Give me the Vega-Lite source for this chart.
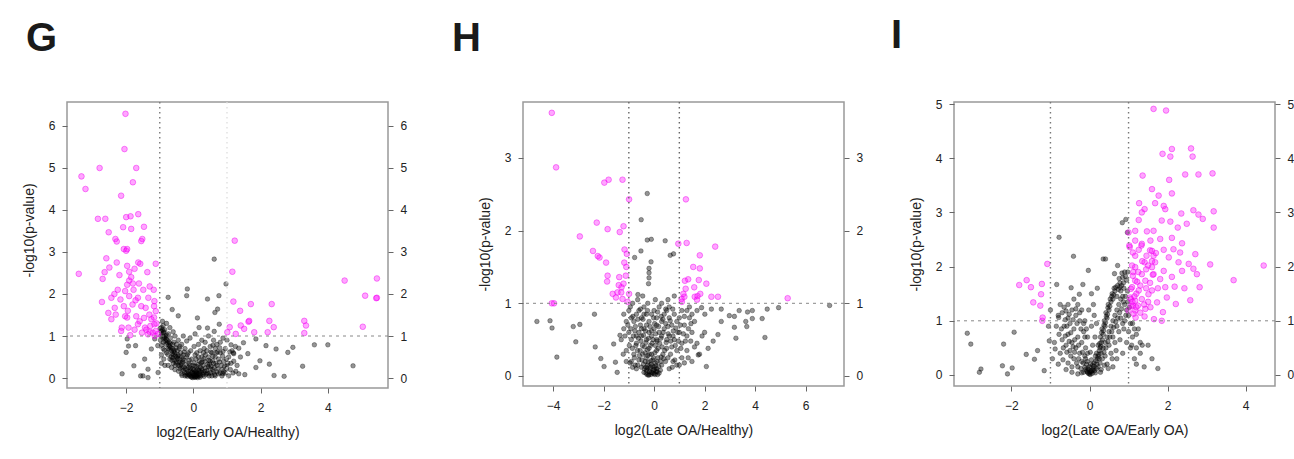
{
"$schema": "https://vega.github.io/schema/vega-lite/v6.json",
"background": "white",
"padding": {"left": 21, "top": 15, "right": 5, "bottom": 5},
"config": {
 "view": {"stroke": "#999", "strokeWidth": 1.5},
 "axis": {"grid": false, "domain": false, "tickColor": "#666", "tickSize": 5, "labelColor": "#222", "labelFont": "Liberation Sans", "labelFontSize": 12, "titleFont": "Liberation Sans", "titleFontSize": 14, "titleFontWeight": "normal", "titleColor": "#222"},
 "title": {"anchor": "start", "frame": "group", "baseline": "alphabetic", "fontSize": 40, "fontWeight": "bold", "font": "Liberation Sans", "color": "#1a1a1a", "offset": 42}
},
"datasets": {
 "h1": [{"y": 1}],
 "vm": [{"x": -1}],
 "vp": [{"x": 1}],
 "vb": [{"x": -1}, {"x": 1}],
 "Gs": [{"x":-2.02,"y":6.29},{"x":-2.05,"y":5.45},{"x":-3.33,"y":4.8},{"x":-3.21,"y":4.5},{"x":-2.79,"y":5.0},{"x":-1.7,"y":5.0},{"x":-1.8,"y":4.66},{"x":-2.15,"y":4.34},{"x":-2.84,"y":3.79},{"x":-2.62,"y":3.79},{"x":-2.0,"y":3.83},{"x":-1.87,"y":3.85},{"x":-1.64,"y":3.9},{"x":-2.09,"y":3.59},{"x":-1.85,"y":3.55},{"x":-1.47,"y":3.6},{"x":-2.52,"y":3.47},{"x":-2.32,"y":3.31},{"x":-2.28,"y":3.25},{"x":-1.52,"y":3.31},{"x":-1.55,"y":3.26},{"x":-2.07,"y":3.07},{"x":-2.0,"y":3.03},{"x":-1.97,"y":3.07},{"x":-2.59,"y":2.85},{"x":-2.28,"y":2.75},{"x":-1.64,"y":2.75},{"x":-1.58,"y":2.72},{"x":-2.5,"y":2.63},{"x":-1.97,"y":2.67},{"x":-1.91,"y":2.53},{"x":-2.64,"y":2.52},{"x":-3.41,"y":2.48},{"x":-2.7,"y":2.36},{"x":-1.37,"y":2.52},{"x":-1.12,"y":2.72},{"x":-1.91,"y":2.32},{"x":-1.8,"y":2.25},{"x":-1.97,"y":2.22},{"x":-2.25,"y":2.1},{"x":-2.03,"y":2.07},{"x":-1.78,"y":2.1},{"x":-1.49,"y":2.1},{"x":-1.3,"y":2.18},{"x":-1.18,"y":2.1},{"x":-2.44,"y":1.91},{"x":-2.17,"y":1.87},{"x":-1.91,"y":1.95},{"x":-1.65,"y":1.91},{"x":-1.34,"y":1.91},{"x":-2.72,"y":1.81},{"x":-2.34,"y":1.67},{"x":-2.07,"y":1.71},{"x":-1.81,"y":1.75},{"x":-1.55,"y":1.71},{"x":-1.42,"y":1.67},{"x":-1.17,"y":1.71},{"x":-2.53,"y":1.55},{"x":-2.31,"y":1.51},{"x":-2.03,"y":1.47},{"x":-1.97,"y":1.44},{"x":-1.7,"y":1.47},{"x":-1.47,"y":1.43},{"x":-1.31,"y":1.51},{"x":-2.44,"y":1.4},{"x":-2.13,"y":1.2},{"x":-1.93,"y":1.2},{"x":-1.65,"y":1.28},{"x":-1.44,"y":1.2},{"x":-1.28,"y":1.24},{"x":-1.16,"y":1.28},{"x":-2.15,"y":1.12},{"x":-1.53,"y":1.08},{"x":-1.35,"y":1.04},{"x":-1.21,"y":1.08},{"x":-1.12,"y":1.12},{"x":-1.17,"y":1.44},{"x":-1.12,"y":1.59},{"x":-1.16,"y":1.83},{"x":-1.85,"y":2.4},{"x":-1.75,"y":2.6},{"x":-1.95,"y":1.6},{"x":-1.6,"y":1.35},{"x":-1.4,"y":1.15},{"x":-1.25,"y":1.4},{"x":-1.1,"y":1.3},{"x":-1.05,"y":1.05},{"x":-1.15,"y":1.0},{"x":-1.3,"y":1.1},{"x":-1.75,"y":1.15},{"x":-1.88,"y":1.02},{"x":-2.35,"y":2.0},{"x":-2.2,"y":2.45},{"x":-1.62,"y":2.25},{"x":-1.72,"y":1.85},{"x":1.23,"y":3.27},{"x":1.16,"y":2.53},{"x":1.19,"y":1.82},{"x":1.39,"y":1.6},{"x":1.71,"y":1.76},{"x":2.33,"y":1.76},{"x":1.64,"y":1.34},{"x":1.66,"y":1.36},{"x":2.26,"y":1.36},{"x":2.39,"y":1.21},{"x":1.08,"y":1.21},{"x":1.41,"y":1.25},{"x":1.51,"y":1.17},{"x":1.81,"y":1.09},{"x":2.21,"y":1.09},{"x":1.01,"y":1.09},{"x":1.26,"y":1.05},{"x":3.3,"y":1.36},{"x":3.35,"y":1.25},{"x":3.3,"y":1.07},{"x":4.5,"y":2.32},{"x":5.46,"y":2.37},{"x":5.11,"y":1.96},{"x":5.46,"y":1.91},{"x":5.44,"y":1.9},{"x":5.04,"y":1.22}],
 "Gn": [{"x":-0.05,"y":0.02},{"x":0.02,"y":0.05},{"x":0.1,"y":0.03},{"x":-0.12,"y":0.08},{"x":0.15,"y":0.1},{"x":-0.2,"y":0.12},{"x":0.05,"y":0.15},{"x":0.22,"y":0.06},{"x":-0.08,"y":0.18},{"x":0.12,"y":0.2},{"x":-0.25,"y":0.05},{"x":0.3,"y":0.12},{"x":-0.15,"y":0.25},{"x":0.0,"y":0.1},{"x":0.08,"y":0.08},{"x":-0.02,"y":0.22},{"x":0.18,"y":0.16},{"x":-0.3,"y":0.18},{"x":0.25,"y":0.22},{"x":-0.1,"y":0.3},{"x":0.05,"y":0.28},{"x":0.32,"y":0.04},{"x":-0.35,"y":0.1},{"x":0.14,"y":0.32},{"x":-0.22,"y":0.32},{"x":0.28,"y":0.3},{"x":0.4,"y":0.18},{"x":-0.4,"y":0.22},{"x":0.02,"y":0.36},{"x":-0.06,"y":0.12},{"x":0.1,"y":0.12},{"x":-0.18,"y":0.04},{"x":0.2,"y":0.02},{"x":0.36,"y":0.24},{"x":-0.28,"y":0.26},{"x":0.06,"y":0.02},{"x":-0.04,"y":0.06},{"x":0.16,"y":0.05},{"x":-0.14,"y":0.15},{"x":0.24,"y":0.14},{"x":0.45,"y":0.1},{"x":0.5,"y":0.22},{"x":-0.45,"y":0.3},{"x":0.42,"y":0.32},{"x":-0.32,"y":0.38},{"x":0.18,"y":0.4},{"x":-0.12,"y":0.42},{"x":0.35,"y":0.4},{"x":0.55,"y":0.05},{"x":0.6,"y":0.15},{"x":-0.5,"y":0.4},{"x":0.08,"y":0.45},{"x":-0.5,"y":0.5},{"x":-0.55,"y":0.6},{"x":-0.6,"y":0.55},{"x":-0.62,"y":0.7},{"x":-0.65,"y":0.65},{"x":-0.7,"y":0.75},{"x":-0.72,"y":0.85},{"x":-0.75,"y":0.7},{"x":-0.78,"y":0.9},{"x":-0.8,"y":0.8},{"x":-0.82,"y":1.0},{"x":-0.85,"y":0.95},{"x":-0.88,"y":1.1},{"x":-0.9,"y":0.85},{"x":-0.92,"y":1.15},{"x":-0.95,"y":1.2},{"x":-0.97,"y":1.0},{"x":-0.98,"y":0.9},{"x":-0.45,"y":0.55},{"x":-0.4,"y":0.45},{"x":-0.38,"y":0.6},{"x":-0.52,"y":0.72},{"x":-0.58,"y":0.85},{"x":-0.68,"y":0.95},{"x":-0.74,"y":1.05},{"x":-0.85,"y":1.15},{"x":-0.9,"y":1.25},{"x":-0.66,"y":0.5},{"x":-0.56,"y":0.42},{"x":-0.48,"y":0.65},{"x":-0.42,"y":0.7},{"x":-0.35,"y":0.5},{"x":-0.3,"y":0.55},{"x":-0.6,"y":0.35},{"x":-0.7,"y":0.45},{"x":-0.8,"y":0.6},{"x":-0.9,"y":0.7},{"x":-0.95,"y":0.55},{"x":-0.88,"y":0.45},{"x":-0.75,"y":0.3},{"x":-0.65,"y":0.25},{"x":-0.55,"y":0.2},{"x":-0.85,"y":0.3},{"x":-0.95,"y":0.35},{"x":-0.2,"y":0.5},{"x":-0.25,"y":0.7},{"x":-0.15,"y":0.6},{"x":-0.35,"y":0.8},{"x":-0.45,"y":0.9},{"x":-0.55,"y":1.0},{"x":-0.6,"y":1.1},{"x":-0.7,"y":1.2},{"x":-0.8,"y":1.3},{"x":-0.92,"y":1.35},{"x":-0.5,"y":0.8},{"x":0.5,"y":0.4},{"x":0.6,"y":0.35},{"x":0.65,"y":0.5},{"x":0.7,"y":0.3},{"x":0.75,"y":0.45},{"x":0.8,"y":0.6},{"x":0.85,"y":0.2},{"x":0.9,"y":0.4},{"x":0.95,"y":0.7},{"x":1.0,"y":0.3},{"x":1.05,"y":0.5},{"x":1.1,"y":0.2},{"x":1.15,"y":0.65},{"x":0.55,"y":0.6},{"x":0.45,"y":0.5},{"x":0.65,"y":0.7},{"x":0.7,"y":0.8},{"x":0.5,"y":0.75},{"x":0.4,"y":0.65},{"x":0.3,"y":0.6},{"x":0.25,"y":0.5},{"x":0.2,"y":0.65},{"x":0.85,"y":0.05},{"x":0.95,"y":0.12},{"x":0.75,"y":0.1},{"x":0.65,"y":0.05},{"x":1.2,"y":0.4},{"x":1.3,"y":0.3},{"x":1.25,"y":0.75},{"x":1.4,"y":0.5},{"x":0.35,"y":0.85},{"x":0.6,"y":0.9},{"x":0.8,"y":0.85},{"x":1.0,"y":0.9},{"x":0.45,"y":1.0},{"x":0.15,"y":0.8},{"x":0.9,"y":0.15},{"x":1.05,"y":0.05},{"x":1.35,"y":0.1},{"x":0.72,"y":0.62},{"x":0.62,"y":2.83},{"x":0.97,"y":2.24},{"x":0.42,"y":1.88},{"x":0.72,"y":1.64},{"x":0.64,"y":1.56},{"x":0.76,"y":1.96},{"x":1.86,"y":0.93},{"x":2.16,"y":0.77},{"x":2.46,"y":0.69},{"x":2.81,"y":0.61},{"x":2.96,"y":0.73},{"x":3.25,"y":0.28},{"x":3.6,"y":0.79},{"x":4.0,"y":0.79},{"x":4.75,"y":0.29},{"x":2.4,"y":0.06},{"x":2.7,"y":0.04},{"x":2.26,"y":0.33},{"x":1.98,"y":0.41},{"x":1.62,"y":0.58},{"x":1.86,"y":0.25},{"x":1.53,"y":0.08},{"x":1.26,"y":0.16},{"x":1.35,"y":0.71},{"x":1.2,"y":0.58},{"x":1.49,"y":0.84},{"x":0.88,"y":0.63},{"x":1.12,"y":0.79},{"x":0.88,"y":0.95},{"x":0.62,"y":1.11},{"x":0.42,"y":1.19},{"x":1.19,"y":0.6},{"x":-2.12,"y":0.1},{"x":-1.97,"y":0.93},{"x":-1.72,"y":0.77},{"x":-1.77,"y":0.29},{"x":-1.57,"y":0.05},{"x":-1.45,"y":0.45},{"x":-1.35,"y":0.21},{"x":-2.0,"y":0.61},{"x":-1.25,"y":0.69},{"x":-1.15,"y":0.93},{"x":-1.06,"y":0.77},{"x":-1.93,"y":0.76},{"x":-1.5,"y":0.05},{"x":-1.35,"y":0.01},{"x":-1.05,"y":0.13},{"x":-0.75,"y":1.92},{"x":-0.18,"y":2.12},{"x":-0.2,"y":1.96},{"x":-0.45,"y":1.48},{"x":-0.63,"y":1.63},{"x":0.12,"y":1.43},{"x":0.17,"y":1.2},{"x":0.77,"y":1.28},{"x":-0.3,"y":1.0},{"x":-0.1,"y":0.95},{"x":0.05,"y":1.05},{"x":-0.02,"y":0.01},{"x":0.03,"y":0.02},{"x":-0.07,"y":0.03},{"x":0.07,"y":0.04},{"x":0.11,"y":0.07},{"x":-0.11,"y":0.05},{"x":0.13,"y":0.01},{"x":-0.16,"y":0.09},{"x":0.19,"y":0.09},{"x":-0.21,"y":0.07},{"x":0.04,"y":0.11},{"x":-0.03,"y":0.14},{"x":0.09,"y":0.16},{"x":-0.09,"y":0.24},{"x":0.16,"y":0.19},{"x":0.21,"y":0.26},{"x":-0.19,"y":0.2},{"x":-0.24,"y":0.22},{"x":0.26,"y":0.18},{"x":0.29,"y":0.08},{"x":0.34,"y":0.16},{"x":-0.27,"y":0.13},{"x":-0.33,"y":0.24},{"x":0.38,"y":0.09},{"x":0.01,"y":0.19},{"x":-0.01,"y":0.3},{"x":0.11,"y":0.27},{"x":-0.13,"y":0.35},{"x":0.23,"y":0.36},{"x":-0.26,"y":0.42},{"x":0.31,"y":0.46},{"x":-0.37,"y":0.32},{"x":0.44,"y":0.27},{"x":-0.42,"y":0.38},{"x":0.48,"y":0.33},{"x":0.53,"y":0.28},{"x":0.57,"y":0.41},{"x":-0.47,"y":0.46},{"x":-0.53,"y":0.52},{"x":-0.58,"y":0.62},{"x":-0.63,"y":0.58},{"x":-0.67,"y":0.72},{"x":-0.73,"y":0.78},{"x":-0.77,"y":0.84},{"x":-0.83,"y":0.88},{"x":-0.87,"y":0.98},{"x":-0.93,"y":1.05},{"x":-0.96,"y":1.12},{"x":-0.99,"y":1.18},{"x":-0.91,"y":0.96},{"x":-0.81,"y":0.92},{"x":-0.71,"y":0.68},{"x":-0.61,"y":0.48},{"x":-0.51,"y":0.36},{"x":-0.41,"y":0.28},{"x":-0.36,"y":0.35},{"x":-0.31,"y":0.44},{"x":-0.46,"y":0.52},{"x":-0.57,"y":0.66},{"x":-0.69,"y":0.82},{"x":-0.79,"y":1.02},{"x":-0.89,"y":1.08},{"x":-0.94,"y":0.78},{"x":-0.86,"y":0.66},{"x":-0.76,"y":0.56},{"x":-0.64,"y":0.42},{"x":-0.54,"y":0.3},{"x":-0.44,"y":0.16},{"x":-0.34,"y":0.06},{"x":0.62,"y":0.25},{"x":0.67,"y":0.35},{"x":0.73,"y":0.22},{"x":0.78,"y":0.38},{"x":0.83,"y":0.3},{"x":0.87,"y":0.52},{"x":0.93,"y":0.28},{"x":0.98,"y":0.45},{"x":1.03,"y":0.35},{"x":1.08,"y":0.62},{"x":0.58,"y":0.52},{"x":0.68,"y":0.6},{"x":0.78,"y":0.72},{"x":0.52,"y":0.62},{"x":0.46,"y":0.42},{"x":0.36,"y":0.55},{"x":0.26,"y":0.38},{"x":0.41,"y":0.12},{"x":0.47,"y":0.05},{"x":0.52,"y":0.12},{"x":0.57,"y":0.2},{"x":0.63,"y":0.08},{"x":0.7,"y":0.15},{"x":0.8,"y":0.12},{"x":0.88,"y":0.1},{"x":0.98,"y":0.22},{"x":1.12,"y":0.35},{"x":1.18,"y":0.12},{"x":0.15,"y":0.5},{"x":0.05,"y":0.55},{"x":-0.05,"y":0.45},{"x":-0.18,"y":0.55},{"x":-0.28,"y":0.62},{"x":0.1,"y":0.6},{"x":0.32,"y":0.7},{"x":0.58,"y":0.78},{"x":-0.4,"y":0.75},{"x":-0.62,"y":0.8},{"x":-0.2,"y":0.88},{"x":0.25,"y":0.9},{"x":0.02,"y":0.75},{"x":-0.08,"y":0.65}],
 "Hs": [{"x":-4.05,"y":3.62},{"x":-3.88,"y":2.87},{"x":-1.97,"y":2.66},{"x":-1.8,"y":2.7},{"x":-1.25,"y":2.7},{"x":-0.99,"y":2.43},{"x":-2.27,"y":2.11},{"x":-1.84,"y":2.02},{"x":-2.94,"y":1.92},{"x":-1.36,"y":1.98},{"x":-1.21,"y":2.06},{"x":-2.42,"y":1.72},{"x":-2.23,"y":1.65},{"x":-2.16,"y":1.63},{"x":-1.9,"y":1.56},{"x":-1.18,"y":1.56},{"x":-1.08,"y":1.68},{"x":-1.17,"y":1.74},{"x":-1.84,"y":1.38},{"x":-1.86,"y":1.3},{"x":-1.38,"y":1.36},{"x":-1.21,"y":1.27},{"x":-1.29,"y":1.22},{"x":-1.12,"y":1.38},{"x":-1.64,"y":1.13},{"x":-1.51,"y":1.08},{"x":-1.25,"y":1.06},{"x":-4.05,"y":1.0},{"x":-3.96,"y":1.0},{"x":-0.99,"y":1.13},{"x":-1.45,"y":1.15},{"x":-1.3,"y":1.15},{"x":-1.4,"y":1.25},{"x":-1.1,"y":1.5},{"x":-1.05,"y":1.02},{"x":1.26,"y":2.43},{"x":0.96,"y":1.82},{"x":1.29,"y":1.83},{"x":2.42,"y":1.78},{"x":1.81,"y":1.66},{"x":1.55,"y":1.5},{"x":1.81,"y":1.48},{"x":1.22,"y":1.31},{"x":1.35,"y":1.33},{"x":1.77,"y":1.32},{"x":2.07,"y":1.27},{"x":1.59,"y":1.22},{"x":1.16,"y":1.13},{"x":1.2,"y":1.09},{"x":1.61,"y":1.09},{"x":1.72,"y":1.1},{"x":1.83,"y":1.13},{"x":2.27,"y":1.09},{"x":2.53,"y":1.09},{"x":5.29,"y":1.07},{"x":1.09,"y":1.06},{"x":1.25,"y":1.2},{"x":1.1,"y":1.02},{"x":1.7,"y":1.05}],
 "Hn": [{"x":-0.2,"y":0.02},{"x":-0.1,"y":0.05},{"x":0.0,"y":0.03},{"x":-0.3,"y":0.08},{"x":0.1,"y":0.1},{"x":-0.15,"y":0.12},{"x":-0.25,"y":0.15},{"x":0.05,"y":0.18},{"x":-0.4,"y":0.05},{"x":0.2,"y":0.04},{"x":-0.05,"y":0.22},{"x":-0.35,"y":0.2},{"x":0.15,"y":0.25},{"x":-0.5,"y":0.12},{"x":0.3,"y":0.15},{"x":-0.1,"y":0.3},{"x":-0.25,"y":0.28},{"x":0.1,"y":0.35},{"x":-0.45,"y":0.3},{"x":0.35,"y":0.3},{"x":0.0,"y":0.12},{"x":-0.18,"y":0.06},{"x":0.08,"y":0.06},{"x":-0.28,"y":0.02},{"x":0.25,"y":0.08},{"x":-0.6,"y":0.22},{"x":0.45,"y":0.2},{"x":-0.2,"y":0.38},{"x":0.05,"y":0.42},{"x":-0.38,"y":0.4},{"x":0.22,"y":0.45},{"x":-0.55,"y":0.35},{"x":0.5,"y":0.38},{"x":-0.12,"y":0.16},{"x":-0.32,"y":0.12},{"x":0.14,"y":0.02},{"x":-0.08,"y":0.45},{"x":-0.7,"y":0.1},{"x":0.6,"y":0.1},{"x":-0.02,"y":0.08},{"x":-0.8,"y":0.3},{"x":-0.9,"y":0.5},{"x":-0.7,"y":0.45},{"x":-0.6,"y":0.6},{"x":-0.5,"y":0.55},{"x":-0.4,"y":0.65},{"x":-0.3,"y":0.5},{"x":-0.2,"y":0.6},{"x":-0.1,"y":0.55},{"x":0.0,"y":0.65},{"x":0.1,"y":0.5},{"x":0.2,"y":0.6},{"x":0.3,"y":0.55},{"x":0.4,"y":0.65},{"x":0.5,"y":0.5},{"x":0.6,"y":0.55},{"x":0.7,"y":0.4},{"x":0.8,"y":0.5},{"x":0.9,"y":0.35},{"x":1.0,"y":0.6},{"x":1.1,"y":0.45},{"x":1.2,"y":0.7},{"x":1.3,"y":0.55},{"x":1.4,"y":0.8},{"x":1.5,"y":0.6},{"x":1.6,"y":0.75},{"x":-1.0,"y":0.6},{"x":-1.1,"y":0.75},{"x":-1.2,"y":0.85},{"x":-1.0,"y":0.9},{"x":-0.9,"y":0.8},{"x":-0.8,"y":0.75},{"x":-0.7,"y":0.85},{"x":-0.6,"y":0.9},{"x":-0.5,"y":0.8},{"x":-0.4,"y":0.95},{"x":-0.3,"y":0.85},{"x":-0.2,"y":0.75},{"x":-0.1,"y":0.85},{"x":0.0,"y":0.9},{"x":0.1,"y":0.8},{"x":0.2,"y":0.95},{"x":0.3,"y":0.75},{"x":0.4,"y":0.85},{"x":0.5,"y":0.9},{"x":0.6,"y":0.8},{"x":0.7,"y":0.7},{"x":0.8,"y":0.85},{"x":0.9,"y":0.75},{"x":1.0,"y":0.8},{"x":1.1,"y":0.9},{"x":1.3,"y":0.9},{"x":1.5,"y":0.85},{"x":1.7,"y":0.9},{"x":-0.85,"y":1.0},{"x":-0.65,"y":1.05},{"x":-0.45,"y":1.1},{"x":-0.25,"y":1.0},{"x":0.05,"y":1.05},{"x":0.3,"y":1.0},{"x":0.55,"y":1.05},{"x":0.8,"y":1.1},{"x":-0.9,"y":0.2},{"x":-1.1,"y":0.35},{"x":-1.3,"y":0.5},{"x":0.9,"y":0.15},{"x":1.1,"y":0.25},{"x":1.3,"y":0.35},{"x":1.5,"y":0.2},{"x":1.7,"y":0.45},{"x":1.9,"y":0.55},{"x":0.75,"y":0.2},{"x":-0.75,"y":0.15},{"x":1.8,"y":0.3},{"x":2.0,"y":0.6},{"x":-4.64,"y":0.75},{"x":-4.12,"y":0.76},{"x":-4.04,"y":0.66},{"x":-3.85,"y":0.26},{"x":-3.2,"y":0.68},{"x":-2.94,"y":0.71},{"x":-3.1,"y":0.47},{"x":-2.36,"y":0.85},{"x":-2.33,"y":0.4},{"x":-2.11,"y":0.24},{"x":-1.98,"y":0.13},{"x":-1.46,"y":0.05},{"x":-1.53,"y":0.19},{"x":-1.6,"y":0.44},{"x":-1.35,"y":0.56},{"x":-0.27,"y":2.51},{"x":-0.51,"y":2.15},{"x":-0.27,"y":1.87},{"x":-0.11,"y":1.88},{"x":-0.2,"y":1.48},{"x":-0.22,"y":1.27},{"x":-0.12,"y":1.57},{"x":-0.52,"y":1.72},{"x":-0.64,"y":1.12},{"x":0.44,"y":1.86},{"x":0.77,"y":1.68},{"x":0.64,"y":1.66},{"x":-0.77,"y":1.63},{"x":1.88,"y":0.94},{"x":2.27,"y":0.92},{"x":2.66,"y":0.92},{"x":2.98,"y":0.83},{"x":3.18,"y":0.82},{"x":3.37,"y":0.9},{"x":3.7,"y":0.88},{"x":3.89,"y":0.9},{"x":4.48,"y":0.92},{"x":4.93,"y":0.94},{"x":6.95,"y":0.97},{"x":3.63,"y":0.75},{"x":3.89,"y":0.79},{"x":4.28,"y":0.79},{"x":3.18,"y":0.67},{"x":3.67,"y":0.68},{"x":3.24,"y":0.52},{"x":4.39,"y":0.53},{"x":2.66,"y":0.75},{"x":2.01,"y":0.85},{"x":2.53,"y":0.57},{"x":2.34,"y":0.48},{"x":2.07,"y":0.13},{"x":2.14,"y":0.38},{"x":1.75,"y":0.29},{"x":-0.2,"y":1.35},{"x":-0.2,"y":1.42},{"x":-0.22,"y":0.01},{"x":-0.12,"y":0.02},{"x":-0.05,"y":0.04},{"x":-0.32,"y":0.04},{"x":0.04,"y":0.02},{"x":-0.17,"y":0.09},{"x":-0.27,"y":0.11},{"x":0.02,"y":0.09},{"x":-0.38,"y":0.1},{"x":0.12,"y":0.06},{"x":-0.07,"y":0.14},{"x":-0.23,"y":0.19},{"x":0.07,"y":0.14},{"x":-0.42,"y":0.16},{"x":0.18,"y":0.13},{"x":-0.13,"y":0.21},{"x":-0.31,"y":0.25},{"x":0.12,"y":0.2},{"x":-0.48,"y":0.22},{"x":0.26,"y":0.2},{"x":-0.02,"y":0.25},{"x":-0.18,"y":0.3},{"x":0.03,"y":0.32},{"x":-0.36,"y":0.32},{"x":0.28,"y":0.26},{"x":-0.58,"y":0.28},{"x":0.38,"y":0.24},{"x":-0.26,"y":0.36},{"x":0.16,"y":0.38},{"x":-0.46,"y":0.42},{"x":0.32,"y":0.4},{"x":-0.66,"y":0.35},{"x":0.42,"y":0.35},{"x":-0.14,"y":0.42},{"x":-0.32,"y":0.46},{"x":0.12,"y":0.48},{"x":-0.52,"y":0.48},{"x":0.27,"y":0.52},{"x":-0.72,"y":0.42},{"x":0.48,"y":0.46},{"x":-0.04,"y":0.5},{"x":-0.22,"y":0.52},{"x":0.06,"y":0.58},{"x":-0.42,"y":0.56},{"x":0.36,"y":0.6},{"x":-0.62,"y":0.52},{"x":0.56,"y":0.58},{"x":-0.82,"y":0.55},{"x":0.66,"y":0.48},{"x":-0.92,"y":0.65},{"x":0.76,"y":0.62},{"x":-0.34,"y":0.62},{"x":0.18,"y":0.68},{"x":-0.54,"y":0.7},{"x":0.46,"y":0.72},{"x":-0.74,"y":0.68},{"x":0.86,"y":0.66},{"x":-0.16,"y":0.68},{"x":0.02,"y":0.72},{"x":-0.44,"y":0.78},{"x":0.28,"y":0.82},{"x":-0.64,"y":0.78},{"x":0.64,"y":0.76},{"x":-0.84,"y":0.82},{"x":0.94,"y":0.6},{"x":-1.04,"y":0.7},{"x":1.04,"y":0.7},{"x":-0.26,"y":0.9},{"x":0.14,"y":0.88},{"x":-0.54,"y":0.92},{"x":0.46,"y":0.92},{"x":-0.94,"y":0.95},{"x":0.74,"y":0.92},{"x":-0.76,"y":0.62},{"x":0.84,"y":0.42},{"x":-0.86,"y":0.38},{"x":0.96,"y":0.48},{"x":-0.98,"y":0.42},{"x":1.06,"y":0.38},{"x":-1.15,"y":0.55},{"x":1.16,"y":0.58},{"x":1.24,"y":0.48},{"x":1.36,"y":0.65},{"x":1.46,"y":0.72},{"x":-1.2,"y":0.65},{"x":0.55,"y":0.25},{"x":0.65,"y":0.3},{"x":-0.65,"y":0.15},{"x":-0.78,"y":0.25},{"x":0.72,"y":0.12},{"x":0.82,"y":0.22},{"x":-0.85,"y":0.12},{"x":-0.95,"y":0.18},{"x":1.0,"y":0.15},{"x":1.2,"y":0.18},{"x":-1.1,"y":0.2},{"x":-1.22,"y":0.3},{"x":1.35,"y":0.25},{"x":1.6,"y":0.4},{"x":1.45,"y":0.48},{"x":-0.1,"y":0.62},{"x":-0.3,"y":0.7},{"x":0.1,"y":0.7},{"x":0.35,"y":0.78},{"x":-0.5,"y":0.65},{"x":0.55,"y":0.68},{"x":-0.7,"y":0.55},{"x":0.75,"y":0.55},{"x":-0.02,"y":0.8},{"x":-0.4,"y":0.85},{"x":0.6,"y":0.95},{"x":1.2,"y":0.82},{"x":1.4,"y":0.95}],
 "Is": [{"x":1.64,"y":4.91},{"x":1.96,"y":4.88},{"x":2.11,"y":4.17},{"x":2.6,"y":4.18},{"x":1.87,"y":4.08},{"x":2.07,"y":4.03},{"x":2.64,"y":4.03},{"x":1.36,"y":3.68},{"x":2.45,"y":3.7},{"x":2.79,"y":3.7},{"x":3.15,"y":3.72},{"x":2.04,"y":3.6},{"x":1.6,"y":3.43},{"x":2.11,"y":3.35},{"x":1.77,"y":3.31},{"x":1.27,"y":3.17},{"x":1.68,"y":3.17},{"x":1.9,"y":3.12},{"x":1.41,"y":3.06},{"x":1.94,"y":3.06},{"x":1.34,"y":3.0},{"x":2.35,"y":2.98},{"x":2.66,"y":3.04},{"x":2.79,"y":2.96},{"x":2.9,"y":2.88},{"x":3.18,"y":3.02},{"x":1.85,"y":2.85},{"x":2.07,"y":2.83},{"x":2.49,"y":2.79},{"x":1.26,"y":2.86},{"x":2.26,"y":2.72},{"x":3.18,"y":2.72},{"x":1.64,"y":2.66},{"x":1.17,"y":2.66},{"x":1.47,"y":2.65},{"x":1.0,"y":2.63},{"x":1.81,"y":2.51},{"x":2.11,"y":2.53},{"x":2.37,"y":2.43},{"x":1.17,"y":2.48},{"x":1.56,"y":2.48},{"x":1.34,"y":2.42},{"x":1.03,"y":2.36},{"x":1.26,"y":2.31},{"x":1.6,"y":2.29},{"x":1.9,"y":2.31},{"x":2.15,"y":2.32},{"x":2.32,"y":2.26},{"x":2.71,"y":2.23},{"x":1.17,"y":2.2},{"x":1.64,"y":2.2},{"x":2.03,"y":2.17},{"x":1.41,"y":2.08},{"x":1.68,"y":2.08},{"x":2.28,"y":2.08},{"x":2.54,"y":2.05},{"x":3.09,"y":2.04},{"x":1.17,"y":1.99},{"x":1.6,"y":1.99},{"x":1.9,"y":1.92},{"x":2.37,"y":1.92},{"x":2.66,"y":1.96},{"x":4.46,"y":2.02},{"x":1.34,"y":1.86},{"x":1.64,"y":1.86},{"x":2.11,"y":1.81},{"x":2.75,"y":1.86},{"x":1.17,"y":1.74},{"x":1.43,"y":1.74},{"x":1.81,"y":1.77},{"x":3.69,"y":1.75},{"x":1.09,"y":1.62},{"x":1.26,"y":1.56},{"x":1.6,"y":1.56},{"x":1.94,"y":1.62},{"x":2.18,"y":1.63},{"x":2.43,"y":1.6},{"x":2.82,"y":1.62},{"x":1.04,"y":1.43},{"x":1.17,"y":1.37},{"x":1.34,"y":1.4},{"x":1.51,"y":1.49},{"x":1.73,"y":1.34},{"x":1.98,"y":1.43},{"x":1.07,"y":1.28},{"x":1.24,"y":1.28},{"x":1.43,"y":1.22},{"x":2.21,"y":1.31},{"x":2.58,"y":1.38},{"x":1.88,"y":1.16},{"x":1.13,"y":1.13},{"x":1.41,"y":1.08},{"x":1.85,"y":1.0},{"x":1.56,"y":1.25},{"x":1.17,"y":1.19},{"x":1.0,"y":1.19},{"x":1.02,"y":2.39},{"x":1.11,"y":2.26},{"x":1.09,"y":2.02},{"x":1.11,"y":1.83},{"x":1.06,"y":1.59},{"x":1.06,"y":1.4},{"x":1.11,"y":1.28},{"x":1.18,"y":1.06},{"x":1.65,"y":1.03},{"x":1.46,"y":2.2},{"x":1.5,"y":2.02},{"x":1.33,"y":2.39},{"x":1.2,"y":1.5},{"x":1.3,"y":1.65},{"x":1.15,"y":1.45},{"x":1.25,"y":1.9},{"x":1.35,"y":2.1},{"x":1.45,"y":1.95},{"x":1.55,"y":1.7},{"x":1.5,"y":1.35},{"x":1.4,"y":1.3},{"x":1.2,"y":1.25},{"x":1.1,"y":1.35},{"x":1.3,"y":1.15},{"x":1.6,"y":2.1},{"x":1.7,"y":2.25},{"x":1.55,"y":2.3},{"x":1.45,"y":1.6},{"x":1.22,"y":1.72},{"x":1.12,"y":1.9},{"x":1.62,"y":1.85},{"x":1.75,"y":1.6},{"x":-1.08,"y":2.05},{"x":-1.8,"y":1.66},{"x":-1.61,"y":1.75},{"x":-1.5,"y":1.62},{"x":-1.22,"y":1.68},{"x":-1.24,"y":1.49},{"x":-1.44,"y":1.34},{"x":-1.26,"y":1.28},{"x":-1.2,"y":1.06},{"x":-1.21,"y":1.0}],
 "In": [{"x":0.0,"y":0.02},{"x":-0.05,"y":0.05},{"x":0.05,"y":0.08},{"x":-0.1,"y":0.1},{"x":0.1,"y":0.12},{"x":0.0,"y":0.15},{"x":-0.08,"y":0.2},{"x":0.12,"y":0.22},{"x":0.05,"y":0.28},{"x":-0.15,"y":0.05},{"x":0.15,"y":0.04},{"x":-0.02,"y":0.1},{"x":0.08,"y":0.18},{"x":0.2,"y":0.3},{"x":0.18,"y":0.4},{"x":0.25,"y":0.45},{"x":0.22,"y":0.55},{"x":0.3,"y":0.6},{"x":0.28,"y":0.7},{"x":0.35,"y":0.75},{"x":0.32,"y":0.85},{"x":0.4,"y":0.9},{"x":0.38,"y":1.0},{"x":0.45,"y":1.05},{"x":0.42,"y":1.15},{"x":0.5,"y":1.2},{"x":0.48,"y":1.3},{"x":0.55,"y":1.35},{"x":0.6,"y":1.4},{"x":0.58,"y":1.5},{"x":0.65,"y":1.55},{"x":0.7,"y":1.45},{"x":0.72,"y":1.65},{"x":0.78,"y":1.7},{"x":0.8,"y":1.55},{"x":0.85,"y":1.8},{"x":0.9,"y":1.9},{"x":0.88,"y":1.6},{"x":0.95,"y":1.75},{"x":0.15,"y":0.35},{"x":0.25,"y":0.3},{"x":0.3,"y":0.4},{"x":0.35,"y":0.5},{"x":0.4,"y":0.6},{"x":0.45,"y":0.7},{"x":0.5,"y":0.8},{"x":0.55,"y":0.9},{"x":0.6,"y":1.0},{"x":0.65,"y":1.1},{"x":0.7,"y":1.2},{"x":0.75,"y":1.3},{"x":0.8,"y":1.4},{"x":0.85,"y":1.45},{"x":0.9,"y":1.3},{"x":0.95,"y":1.2},{"x":0.6,"y":0.7},{"x":0.7,"y":0.9},{"x":0.8,"y":1.05},{"x":0.9,"y":1.0},{"x":0.5,"y":0.55},{"x":0.4,"y":0.35},{"x":0.55,"y":0.4},{"x":0.65,"y":0.6},{"x":0.75,"y":0.8},{"x":0.85,"y":0.95},{"x":1.0,"y":1.1},{"x":1.0,"y":0.8},{"x":0.95,"y":0.6},{"x":1.1,"y":0.7},{"x":1.2,"y":0.5},{"x":1.3,"y":0.4},{"x":1.15,"y":0.3},{"x":1.05,"y":0.5},{"x":0.85,"y":0.4},{"x":0.7,"y":0.3},{"x":0.6,"y":0.15},{"x":0.45,"y":0.2},{"x":0.3,"y":0.1},{"x":-0.1,"y":0.3},{"x":-0.2,"y":0.25},{"x":-0.3,"y":0.15},{"x":-0.25,"y":0.4},{"x":-0.35,"y":0.5},{"x":-0.4,"y":0.3},{"x":-0.45,"y":0.6},{"x":-0.5,"y":0.45},{"x":-0.55,"y":0.75},{"x":-0.6,"y":0.55},{"x":-0.65,"y":0.9},{"x":-0.5,"y":0.95},{"x":-0.4,"y":0.85},{"x":-0.3,"y":0.7},{"x":-0.2,"y":0.6},{"x":-0.15,"y":0.8},{"x":-0.25,"y":1.0},{"x":-0.35,"y":1.1},{"x":-0.45,"y":1.2},{"x":-0.55,"y":1.05},{"x":-0.7,"y":0.65},{"x":-0.75,"y":0.4},{"x":-0.8,"y":0.2},{"x":-0.6,"y":0.1},{"x":-0.45,"y":0.05},{"x":-0.3,"y":0.02},{"x":-0.7,"y":1.15},{"x":-0.85,"y":0.9},{"x":-0.9,"y":0.6},{"x":-0.95,"y":0.3},{"x":-0.1,"y":0.5},{"x":-0.05,"y":0.7},{"x":-0.12,"y":1.0},{"x":-0.2,"y":1.2},{"x":-0.3,"y":1.3},{"x":-0.4,"y":1.4},{"x":-0.55,"y":1.3},{"x":-0.65,"y":1.25},{"x":-0.8,"y":1.1},{"x":-0.05,"y":0.4},{"x":-3.13,"y":0.77},{"x":-3.04,"y":0.57},{"x":-1.93,"y":0.79},{"x":-2.2,"y":0.57},{"x":-1.62,"y":0.38},{"x":-1.41,"y":0.29},{"x":-1.33,"y":0.45},{"x":-2.78,"y":0.11},{"x":-2.82,"y":0.05},{"x":-2.23,"y":0.17},{"x":-2.1,"y":0.02},{"x":-1.98,"y":0.13},{"x":-1.16,"y":0.08},{"x":-0.78,"y":2.54},{"x":-0.41,"y":2.19},{"x":-0.03,"y":1.93},{"x":0.35,"y":2.14},{"x":-0.47,"y":1.61},{"x":-0.17,"y":1.67},{"x":-0.26,"y":1.49},{"x":-0.84,"y":1.67},{"x":-0.79,"y":1.06},{"x":-1.03,"y":0.63},{"x":0.93,"y":2.87},{"x":0.84,"y":2.81},{"x":0.97,"y":2.63},{"x":0.72,"y":2.02},{"x":0.41,"y":2.14},{"x":0.78,"y":1.62},{"x":0.64,"y":1.87},{"x":1.2,"y":0.2},{"x":1.4,"y":0.15},{"x":1.6,"y":0.3},{"x":1.75,"y":0.12},{"x":1.3,"y":0.6},{"x":1.5,"y":0.55},{"x":1.1,"y":0.95},{"x":1.25,"y":0.85},{"x":-1.0,"y":1.2},{"x":-1.05,"y":0.9},{"x":0.2,"y":1.6},{"x":0.1,"y":1.3},{"x":0.05,"y":1.5},{"x":0.02,"y":0.01},{"x":-0.03,"y":0.03},{"x":0.07,"y":0.03},{"x":-0.07,"y":0.07},{"x":0.04,"y":0.06},{"x":0.09,"y":0.09},{"x":-0.04,"y":0.12},{"x":0.01,"y":0.05},{"x":0.13,"y":0.08},{"x":-0.12,"y":0.14},{"x":0.11,"y":0.16},{"x":0.03,"y":0.2},{"x":-0.06,"y":0.25},{"x":0.16,"y":0.26},{"x":0.19,"y":0.2},{"x":0.22,"y":0.34},{"x":0.24,"y":0.38},{"x":0.27,"y":0.5},{"x":0.26,"y":0.58},{"x":0.29,"y":0.53},{"x":0.33,"y":0.65},{"x":0.31,"y":0.78},{"x":0.36,"y":0.82},{"x":0.37,"y":0.92},{"x":0.41,"y":0.97},{"x":0.43,"y":1.08},{"x":0.46,"y":1.12},{"x":0.47,"y":1.24},{"x":0.52,"y":1.27},{"x":0.53,"y":1.4},{"x":0.57,"y":1.45},{"x":0.62,"y":1.48},{"x":0.63,"y":1.6},{"x":0.67,"y":1.62},{"x":0.74,"y":1.58},{"x":0.76,"y":1.78},{"x":0.82,"y":1.65},{"x":0.83,"y":1.88},{"x":0.87,"y":1.7},{"x":0.92,"y":1.82},{"x":0.18,"y":0.12},{"x":0.22,"y":0.15},{"x":0.27,"y":0.22},{"x":0.33,"y":0.3},{"x":0.37,"y":0.42},{"x":0.42,"y":0.5},{"x":0.47,"y":0.62},{"x":0.52,"y":0.7},{"x":0.57,"y":0.8},{"x":0.62,"y":0.88},{"x":0.67,"y":0.98},{"x":0.72,"y":1.05},{"x":0.77,"y":1.15},{"x":0.82,"y":1.22},{"x":0.87,"y":1.35},{"x":0.92,"y":1.45},{"x":0.97,"y":1.55},{"x":0.98,"y":1.35},{"x":0.93,"y":1.1},{"x":0.88,"y":0.85},{"x":0.78,"y":0.65},{"x":0.68,"y":0.45},{"x":0.58,"y":0.3},{"x":0.48,"y":0.12},{"x":0.38,"y":0.18},{"x":0.28,"y":0.05},{"x":-0.16,"y":0.22},{"x":-0.22,"y":0.12},{"x":-0.28,"y":0.3},{"x":-0.33,"y":0.22},{"x":-0.38,"y":0.42},{"x":-0.42,"y":0.52},{"x":-0.48,"y":0.35},{"x":-0.52,"y":0.62},{"x":-0.58,"y":0.42},{"x":-0.62,"y":0.72},{"x":-0.67,"y":0.5},{"x":-0.72,"y":0.85},{"x":-0.58,"y":0.9},{"x":-0.48,"y":0.78},{"x":-0.38,"y":0.65},{"x":-0.28,"y":0.55},{"x":-0.18,"y":0.42},{"x":-0.12,"y":0.7},{"x":-0.22,"y":0.85},{"x":-0.32,"y":0.95},{"x":-0.42,"y":1.02},{"x":-0.52,"y":1.12},{"x":-0.62,"y":1.02},{"x":-0.78,"y":0.75},{"x":-0.88,"y":0.48},{"x":-0.15,"y":0.95},{"x":-0.08,"y":0.85},{"x":-0.25,"y":1.15},{"x":-0.35,"y":1.22},{"x":-0.6,"y":1.18},{"x":-0.75,"y":1.3},{"x":-0.45,"y":0.15},{"x":-0.55,"y":0.22},{"x":-0.68,"y":0.28},{"x":-0.2,"y":0.04},{"x":-0.12,"y":0.35},{"x":0.02,"y":0.42},{"x":0.08,"y":0.55},{"x":0.14,"y":0.7},{"x":0.05,"y":0.9},{"x":0.12,"y":1.1},{"x":-0.02,"y":1.2},{"x":0.18,"y":0.95},{"x":1.05,"y":0.95},{"x":1.15,"y":0.85},{"x":1.08,"y":0.55},{"x":1.2,"y":0.75},{"x":1.35,"y":0.55},{"x":1.02,"y":1.25},{"x":0.98,"y":1.9}]
},
"spacing": 135,
"bounds": "flush",
"hconcat": [
 {
  "width": 321, "height": 286,
  "title": {"text": "G", "dx": -41},
  "resolve": {"axis": {"y": "independent"}},
  "layer": [
   {"data": {"name": "Gn"}, "mark": {"type": "circle", "size": 21, "color": "#000", "fillOpacity": 0.42, "stroke": "#000", "strokeOpacity": 0.45, "strokeWidth": 0.7},
    "encoding": {
     "x": {"field": "x", "type": "quantitative", "title": "log2(Early OA/Healthy)", "scale": {"domain": [-3.76, 5.79], "nice": false, "zero": false}, "axis": {"values": [-2, 0, 2, 4], "labelPadding": 9, "titlePadding": 12}},
     "y": {"field": "y", "type": "quantitative", "title": "-log10(p-value)", "scale": {"domain": [-0.238, 6.571], "nice": false, "zero": false}, "axis": {"values": [0, 1, 2, 3, 4, 5, 6], "labelPadding": 7, "titlePadding": 12, "titleY": 128}}}},
   {"data": {"name": "Gs"}, "mark": {"type": "circle", "size": 32, "color": "#ff00ff", "fillOpacity": 0.35, "stroke": "#f000f0", "strokeOpacity": 0.45, "strokeWidth": 1},
    "encoding": {
     "x": {"field": "x", "type": "quantitative", "title": "log2(Early OA/Healthy)"},
     "y": {"field": "y", "type": "quantitative", "axis": null}}},
   {"data": {"name": "vm"}, "mark": {"type": "rule", "color": "#777", "strokeDash": [1.5, 3.5], "strokeWidth": 1.4},
    "encoding": {"x": {"field": "x", "type": "quantitative", "title": "log2(Early OA/Healthy)"}}},
   {"data": {"name": "vp"}, "mark": {"type": "rule", "color": "#ddd", "strokeDash": [1.5, 3.5], "strokeWidth": 1.3},
    "encoding": {"x": {"field": "x", "type": "quantitative", "title": "log2(Early OA/Healthy)"}}},
   {"data": {"name": "h1"}, "mark": {"type": "rule", "color": "#888", "strokeDash": [3, 4], "strokeWidth": 1},
    "encoding": {"y": {"field": "y", "type": "quantitative", "axis": {"orient": "right", "title": null, "values": [0, 1, 2, 3, 4, 5, 6], "labelPadding": 7}}}}
  ]
 },
 {
  "spacing": 110,
  "bounds": "flush",
  "hconcat": [
   {
    "width": 321, "height": 284,
    "title": {"text": "H", "dx": -71},
    "resolve": {"axis": {"y": "independent"}},
    "layer": [
     {"data": {"name": "Hn"}, "mark": {"type": "circle", "size": 21, "color": "#000", "fillOpacity": 0.42, "stroke": "#000", "strokeOpacity": 0.45, "strokeWidth": 0.7},
      "encoding": {
       "x": {"field": "x", "type": "quantitative", "title": "log2(Late OA/Healthy)", "scale": {"domain": [-5.19, 7.52], "nice": false, "zero": false}, "axis": {"values": [-4, -2, 0, 2, 4, 6], "labelPadding": 9, "titlePadding": 12}},
       "y": {"field": "y", "type": "quantitative", "title": "-log10(p-value)", "scale": {"domain": [-0.1376, 3.769], "nice": false, "zero": false}, "axis": {"values": [0, 1, 2, 3], "labelPadding": 7, "titlePadding": 12}}}},
     {"data": {"name": "Hs"}, "mark": {"type": "circle", "size": 32, "color": "#ff00ff", "fillOpacity": 0.35, "stroke": "#f000f0", "strokeOpacity": 0.45, "strokeWidth": 1},
      "encoding": {
       "x": {"field": "x", "type": "quantitative", "title": "log2(Late OA/Healthy)"},
       "y": {"field": "y", "type": "quantitative", "axis": null}}},
     {"data": {"name": "vb"}, "mark": {"type": "rule", "color": "#666", "strokeDash": [1.5, 3.5], "strokeWidth": 1.4},
      "encoding": {"x": {"field": "x", "type": "quantitative", "title": "log2(Late OA/Healthy)"}}},
     {"data": {"name": "h1"}, "mark": {"type": "rule", "color": "#888", "strokeDash": [3, 4], "strokeWidth": 1},
      "encoding": {"y": {"field": "y", "type": "quantitative", "axis": {"orient": "right", "title": null, "values": [0, 1, 2, 3], "labelPadding": 7}}}}
    ]
   },
   {
    "width": 321, "height": 284,
    "title": {"text": "I", "dx": -63},
    "resolve": {"axis": {"y": "independent"}},
    "layer": [
     {"data": {"name": "In"}, "mark": {"type": "circle", "size": 21, "color": "#000", "fillOpacity": 0.42, "stroke": "#000", "strokeOpacity": 0.45, "strokeWidth": 0.7},
      "encoding": {
       "x": {"field": "x", "type": "quantitative", "title": "log2(Late OA/Early OA)", "scale": {"domain": [-3.47, 4.75], "nice": false, "zero": false}, "axis": {"values": [-2, 0, 2, 4], "labelPadding": 9, "titlePadding": 12}},
       "y": {"field": "y", "type": "quantitative", "title": "-log10(p-value)", "scale": {"domain": [-0.203, 5.037], "nice": false, "zero": false}, "axis": {"values": [0, 1, 2, 3, 4, 5], "labelPadding": 7, "titlePadding": 12}}}},
     {"data": {"name": "Is"}, "mark": {"type": "circle", "size": 32, "color": "#ff00ff", "fillOpacity": 0.35, "stroke": "#f000f0", "strokeOpacity": 0.45, "strokeWidth": 1},
      "encoding": {
       "x": {"field": "x", "type": "quantitative", "title": "log2(Late OA/Early OA)"},
       "y": {"field": "y", "type": "quantitative", "axis": null}}},
     {"data": {"name": "vb"}, "mark": {"type": "rule", "color": "#777", "strokeDash": [1.5, 3.5], "strokeWidth": 1.4},
      "encoding": {"x": {"field": "x", "type": "quantitative", "title": "log2(Late OA/Early OA)"}}},
     {"data": {"name": "h1"}, "mark": {"type": "rule", "color": "#888", "strokeDash": [3, 4], "strokeWidth": 1},
      "encoding": {"y": {"field": "y", "type": "quantitative", "axis": {"orient": "right", "title": null, "values": [0, 1, 2, 3, 4, 5], "labelPadding": 7}}}}
    ]
   }
  ]
 }
]
}
